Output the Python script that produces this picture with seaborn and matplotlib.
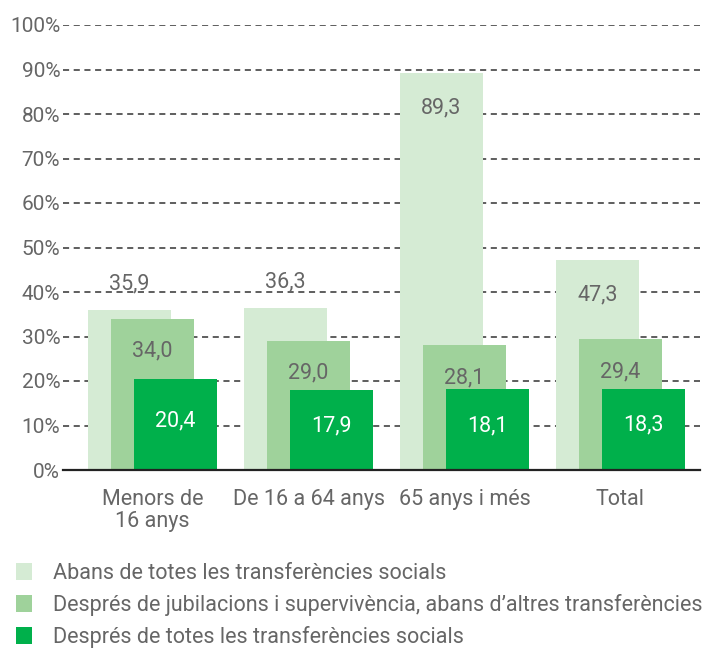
import matplotlib
matplotlib.use("Agg")
import matplotlib.pyplot as plt
import seaborn as sns
import pandas as pd
import numpy as np
from matplotlib.patches import Patch

categories = ["Menors de\n16 anys", "De 16 a 64 anys", "65 anys i més", "Total"]
abans_totes = [35.9, 36.3, 89.3, 47.3]
despres_jubilacions = [34.0, 29.0, 28.1, 29.4]
despres_totes = [20.4, 17.9, 18.1, 18.3]
series_names = [
    "Abans de totes les transferències socials",
    "Després de jubilacions i supervivència, abans d’altres transferències",
    "Després de totes les transferències socials",
]
yticks = [0, 10, 20, 30, 40, 50, 60, 70, 80, 90, 100]

colors = ["#d5ebd4", "#9fd29b", "#00b04b"]
text_gray = "#666666"

sns.set_theme(style="white")
plt.rcParams["font.family"] = ["Roboto", "DejaVu Sans"]

fig = plt.figure(figsize=(7.16, 6.52), dpi=100)
ax = fig.add_axes([63 / 716, 1 - 470 / 652, (700 - 63) / 716, (470 - 25) / 652])

offsets = [-0.147, 0.0, 0.147]
bar_w = 0.532
all_series = [abans_totes, despres_jubilacions, despres_totes]
idx = np.arange(len(categories))

for k, (vals, off, col) in enumerate(zip(all_series, offsets, colors)):
    df = pd.DataFrame({"pos": idx + off, "val": vals})
    sns.barplot(data=df, x="pos", y="val", native_scale=True, width=bar_w,
                color=col, saturation=1, ax=ax, zorder=2 + k, linewidth=0,
                edgecolor="none")

fs = 15.5
# value labels
for i in range(len(categories)):
    v = abans_totes[i]
    if v < 40:
        ly = v + 6.0
    else:
        ly = v - 8.0
    ax.text(i + offsets[0], ly, f"{v:.1f}".replace(".", ","), ha="center", va="center",
            color=text_gray, fontsize=fs, zorder=10)
    v = despres_jubilacions[i]
    ax.text(i + offsets[1], v - 7.3, f"{v:.1f}".replace(".", ","), ha="center", va="center",
            color=text_gray, fontsize=fs, zorder=10)
    v = despres_totes[i]
    ax.text(i + offsets[2], v / 2 + 0.9, f"{v:.1f}".replace(".", ","), ha="center", va="center",
            color="white", fontsize=fs, zorder=10)

ax.set_ylim(0, 100)
ax.set_xlim(-0.574, 3.51)
ax.set_yticks(yticks)
ax.set_yticklabels([f"{t}%" for t in yticks], color=text_gray, fontsize=15)
ax.set_xticks(idx)
ax.set_xticklabels(categories, color=text_gray, fontsize=fs, linespacing=1.1)
ax.set_xlabel("")
ax.set_ylabel("")
ax.tick_params(axis="y", length=0, pad=2)
ax.tick_params(axis="x", length=0, pad=13.5)
ax.grid(axis="y", color="#333333", linestyle=(0, (4, 3)), linewidth=1.1, zorder=0)
ax.grid(axis="x", visible=False)
ax.set_axisbelow(True)
for s in ["left", "right", "top"]:
    ax.spines[s].set_visible(False)
ax.spines["bottom"].set_color("#222222")
ax.spines["bottom"].set_linewidth(1.6)
ax.spines["bottom"].set_zorder(20)

handles = [Patch(facecolor=c, edgecolor="none") for c in colors]
fig.legend(handles, series_names, loc="upper left", bbox_to_anchor=(0.022, 0.137),
           frameon=False, fontsize=fs, labelcolor=text_gray, handlelength=0.75,
           handleheight=0.85, handletextpad=1.0, labelspacing=0.47, borderaxespad=0,
           borderpad=0)

fig.savefig("out.png", dpi=100)
